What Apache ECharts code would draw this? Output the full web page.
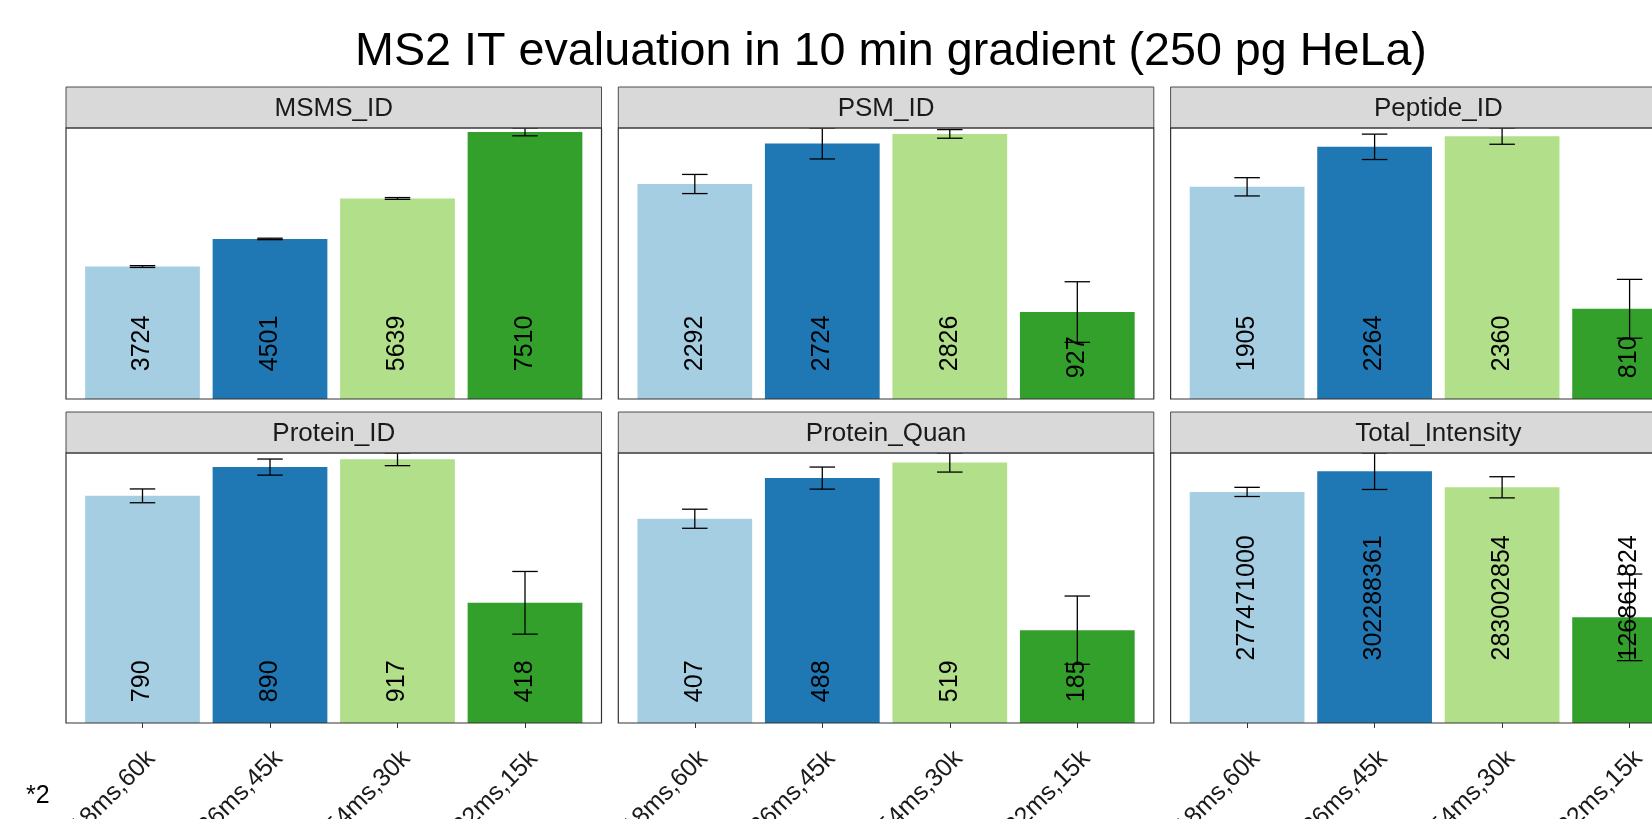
<!DOCTYPE html>
<html>
<head>
<meta charset="utf-8">
<script src="https://cdn.jsdelivr.net/npm/echarts@6/dist/echarts.min.js"></script>
<style>
  html, body { margin: 0; padding: 0; background: #ffffff; }
  #chart { width: 1652px; height: 819px; }
</style>
</head>
<body>
<div id="chart"></div>
<script>
// Acquisition settings (MS2 injection time, resolution)
const categories = ['118ms,60k', '86ms,45k', '54ms,30k', '22ms,15k'];

// Facet names, in reading order
const metrics = ['MSMS_ID', 'PSM_ID', 'Peptide_ID', 'Protein_ID', 'Protein_Quan', 'Total_Intensity'];

// Mean values and standard deviations per facet
const msmsMean = [3724, 4501, 5639, 7510];
const msmsSd = [25, 20, 25, 110];
const psmMean = [2292, 2724, 2826, 927];
const psmSd = [102, 165, 46, 323];
const peptideMean = [1905, 2264, 2360, 810];
const peptideSd = [82, 114, 73, 264];
const proteinMean = [790, 890, 917, 418];
const proteinSd = [24, 28, 22, 109];
const quanMean = [407, 488, 519, 185];
const quanSd = [19, 22, 19, 68];
const intensityMean = [277471000, 302288361, 283002854, 126861824];
const intensitySd = [5500000, 21900000, 12700000, 52000000];

const titleText = 'MS2 IT evaluation in 10 min gradient (250 pg HeLa)';
const tagText = '*2';

const barColors = ['#A6CEE3', '#1F78B4', '#B2DF8A', '#33A02C'];

const facetData = [
  [msmsMean, msmsSd],
  [psmMean, psmSd],
  [peptideMean, peptideSd],
  [proteinMean, proteinSd],
  [quanMean, quanSd],
  [intensityMean, intensitySd]
];

// ---- layout of the 2 x 3 facet grid ----
const FONT = '"Liberation Sans", Arial, Helvetica, sans-serif';
const PANEL_W = 535.5;
const COL_X = [66, 618.3, 1170.6];
const ROWS = [
  { stripTop: 87, top: 128, bottom: 399 },
  { stripTop: 412, top: 453, bottom: 723 }
];
const UNIT = PANEL_W / 4.2;           // one category step (0.6 step of padding on each side)
const VALUE_FONT = 25;

// measure label widths so each value label starts half its own length above the baseline
const measureCtx = document.createElement('canvas').getContext('2d');
measureCtx.font = VALUE_FONT + 'px ' + FONT;
function textWidth(s) { return measureCtx.measureText(s).width; }

const grids = [], xAxes = [], yAxes = [], series = [], graphics = [];

metrics.forEach((name, k) => {
  const row = ROWS[Math.floor(k / 3)];
  const isBottom = Math.floor(k / 3) === 1;
  const px = COL_X[k % 3];
  const [means, sds] = facetData[k];
  const top = Math.max(...means.map((m, i) => m + sds[i]));

  grids.push({
    left: px + 0.1 * UNIT,
    top: row.top,
    width: 4 * UNIT,
    height: row.bottom - row.top,
    containLabel: false,
    outerBoundsMode: 'none'
  });

  xAxes.push({
    type: 'category',
    gridIndex: k,
    data: categories,
    axisLine: { show: false },
    axisTick: {
      show: isBottom,
      alignWithLabel: true,
      length: 5,
      lineStyle: { color: '#333333', width: 1 }
    },
    axisLabel: {
      show: isBottom,
      interval: 0,
      rotate: 45,
      margin: 23,
      verticalAlign: 'top',
      fontSize: 25,
      fontFamily: FONT,
      color: '#1a1a1a'
    },
    splitLine: { show: false }
  });

  yAxes.push({
    type: 'value',
    gridIndex: k,
    min: 0,
    max: top,
    show: false,
    splitLine: { show: false }
  });

  series.push({
    type: 'bar',
    xAxisIndex: k,
    yAxisIndex: k,
    barWidth: '90%',
    data: means.map((v, i) => ({
      value: v,
      itemStyle: { color: barColors[i] },
      label: { distance: 0.5 * textWidth(String(v)) }
    })),
    label: {
      show: true,
      position: 'insideBottom',
      rotate: 90,
      align: 'left',
      verticalAlign: 'middle',
      fontSize: VALUE_FONT,
      fontFamily: FONT,
      color: '#000000',
      formatter: p => String(p.value)
    },
    emphasis: { disabled: true },
    animation: false,
    z: 2
  });

  series.push({
    type: 'custom',
    xAxisIndex: k,
    yAxisIndex: k,
    clip: false,
    data: means.map((m, i) => [i, m, sds[i]]),
    encode: { x: 0, y: 1 },
    renderItem: (params, api) => {
      const i = api.value(0), m = api.value(1), s = api.value(2);
      const hi = api.coord([i, m + s]);
      const lo = api.coord([i, m - s]);
      const half = api.size([1, 0])[0] * 0.1;
      const st = { stroke: '#000000', lineWidth: 1.3 };
      return {
        type: 'group',
        children: [
          { type: 'line', shape: { x1: hi[0], y1: hi[1], x2: lo[0], y2: lo[1] }, style: st },
          { type: 'line', shape: { x1: hi[0] - half, y1: hi[1], x2: hi[0] + half, y2: hi[1] }, style: st },
          { type: 'line', shape: { x1: lo[0] - half, y1: lo[1], x2: lo[0] + half, y2: lo[1] }, style: st }
        ]
      };
    },
    animation: false,
    z: 3
  });

  // strip header
  graphics.push({
    type: 'rect',
    shape: { x: px, y: row.stripTop, width: PANEL_W, height: row.top - row.stripTop },
    style: { fill: '#D9D9D9', stroke: '#4d4d4d', lineWidth: 1 },
    z: 10
  });
  graphics.push({
    type: 'text',
    x: px + PANEL_W / 2,
    y: (row.stripTop + row.top) / 2 + 1.5,
    style: {
      text: name,
      fontSize: 26,
      fontFamily: FONT,
      fill: '#1a1a1a',
      align: 'center',
      verticalAlign: 'middle'
    },
    z: 11
  });
  // panel border
  graphics.push({
    type: 'rect',
    shape: { x: px, y: row.top, width: PANEL_W, height: row.bottom - row.top },
    style: { fill: 'none', stroke: '#333333', lineWidth: 1.2 },
    z: 10
  });
});

graphics.push({
  type: 'text',
  x: 26,
  y: 796,
  style: {
    text: tagText,
    fontSize: 25,
    fontFamily: FONT,
    fill: '#000000',
    align: 'left',
    verticalAlign: 'middle'
  },
  z: 11
});

const chart = echarts.init(document.getElementById('chart'), null, { renderer: 'canvas' });
chart.setOption({
  backgroundColor: '#ffffff',
  animation: false,
  title: {
    text: titleText,
    left: 886,
    top: 24,
    textAlign: 'center',
    textStyle: { fontSize: 46.7, fontWeight: 'normal', fontFamily: FONT, color: '#000000' }
  },
  grid: grids,
  xAxis: xAxes,
  yAxis: yAxes,
  series: series,
  graphic: { elements: graphics }
});
</script>
</body>
</html>
